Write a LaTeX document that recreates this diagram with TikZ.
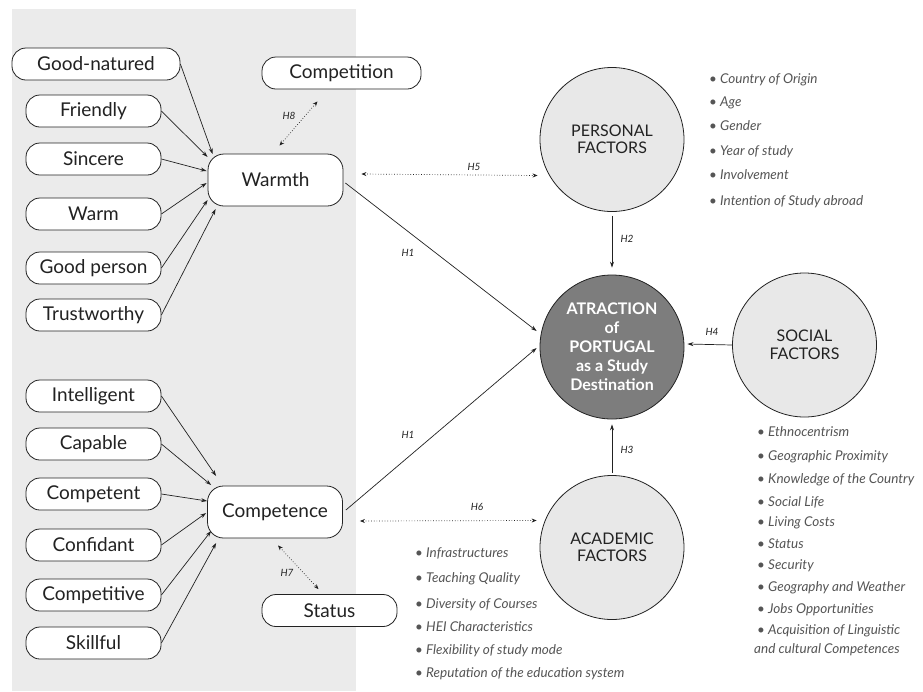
\documentclass[tikz,border=0pt]{standalone}
\usepackage{fontspec}
\setmainfont{Lato}
\usepackage{tikz}
\usetikzlibrary{arrows.meta}
\usetikzlibrary{calc}
\definecolor{panelgrey}{HTML}{EBEBEB}
\definecolor{circlegrey}{HTML}{E8E8E8}
\definecolor{targetgrey}{HTML}{7D7D7D}
\definecolor{inkgrey}{HTML}{222222}
\definecolor{listgrey}{HTML}{555555}
\tikzset{
	trait/.style={draw=inkgrey, fill=white, line width=0.8pt, rounded corners=14pt, minimum width=135, minimum height=32, inner sep=0pt, text=inkgrey, font=\fontsize{19}{21}\selectfont},
	construct/.style={trait, minimum height=52, rounded corners=16pt},
	factor/.style={draw=inkgrey, fill=circlegrey, line width=0.8pt, circle, minimum size=144, inner sep=0pt, align=center, text=inkgrey, font=\fontsize{16}{17.5}\selectfont},
	listitem/.style={anchor=base west, inner sep=0pt, text=listgrey, font=\fontsize{13.5}{14}\selectfont\itshape},
	hyp/.style={inner sep=0pt, text=inkgrey, font=\fontsize{10}{11}\selectfont\itshape},
	link/.style={draw=inkgrey, line width=0.7pt, -{Stealth[length=6pt,width=4pt]}},
	assoc/.style={draw=inkgrey, line width=0.7pt, dotted, {Stealth[length=5pt,width=4pt]}-{Stealth[length=5pt,width=4pt]}}
}

\begin{document}
\begin{tikzpicture}[x=1pt, y=-1pt]
	% Page and shaded panel
	\useasboundingbox (0,0) rectangle (923,691);
	\fill[white] (0,0) rectangle (923,691);
	\fill[panelgrey] (12,9) rectangle (356,691);

	% Traits of warmth
	\node[trait, minimum width=168] (goodnatured) at (96,64) {Good-natured};
	\node[trait] (friendly)    at (93.5,111) {Friendly};
	\node[trait] (sincere)     at (93.5,159) {Sincere};
	\node[trait] (warm)        at (93.5,214) {Warm};
	\node[trait] (goodperson)  at (93.5,268) {Good person};
	\node[trait] (trustworthy) at (93.5,315) {Trustworthy};

	% Traits of competence
	\node[trait] (intelligent) at (93.5,396) {Intelligent};
	\node[trait] (capable)     at (93.5,444) {Capable};
	\node[trait] (competent)   at (93.5,494) {Competent};
	\node[trait] (confidant)   at (93.5,545) {Confidant};
	\node[trait] (competitive) at (93.5,595) {Competitive};
	\node[trait] (skillful)    at (93.5,643) {Skillful};

	% Stereotype dimensions
	\node[construct] (warmth)     at (275.5,180) {Warmth};
	\node[construct] (competence) at (275,512) {Competence};
	\node[trait, minimum width=159] (competition) at (341.5,73) {Competition};
	\node[trait] (status) at (329.5,610.5) {Status};

	% Factors
	\node[factor] (personal) at (612,139.5) {PERSONAL\\FACTORS};
	\node[factor] (social)   at (804.5,345) {SOCIAL\\FACTORS};
	\node[factor] (academic) at (612,547.5) {ACADEMIC\\FACTORS};
	\node[factor, fill=targetgrey, text=white, font=\fontsize{16}{19}\selectfont\bfseries] (attraction) at (612,347) {ATRACTION\\of\\PORTUGAL\\as a Study\\Destination};

	% Traits into dimensions
	\draw[link] (goodnatured.east) -- ($(warmth.west)+(5,-26)$);
	\draw[link] (friendly.east)    -- ($(warmth.west)+(0,-23)$);
	\draw[link] (sincere.east)     -- ($(warmth.west)+(-1,-9)$);
	\draw[link] (warm.east)        -- ($(warmth.west)+(-1,3)$);
	\draw[link] (goodperson.east)  -- ($(warmth.west)+(0,20)$);
	\draw[link] (trustworthy.east) -- ($(warmth.west)+(8,29)$);

	\draw[link] (intelligent.east) -- ($(competence.west)+(9,-36)$);
	\draw[link] (capable.east)     -- ($(competence.west)+(4,-27)$);
	\draw[link] (competent.east)   -- ($(competence.west)+(0,-11)$);
	\draw[link] (confidant.east)   -- ($(competence.west)+(-1,1)$);
	\draw[link] (competitive.east) -- ($(competence.west)+(4,19)$);
	\draw[link] (skillful.east)    -- ($(competence.west)+(9,31)$);

	% Hypotheses
	\draw[assoc] ($(warmth.north)+(4,-8)$) -- ($(competition.south)+(-24,12)$);
	\draw[assoc] ($(competence.south)+(3,7)$) -- ($(status.north)+(-11,-5)$);
	\draw[assoc] ($(warmth.east)+(18,-6)$) -- ($(personal.west)+(-2,36)$);
	\draw[assoc] ($(competence.east)+(17,9)$) -- ($(academic.west)+(-3,-27)$);
	\draw[link] ($(warmth.east)+(2,3)$) -- ($(attraction.west)+(-3,-16)$);
	\draw[link] ($(competence.east)+(3,-2)$) -- ($(attraction.west)+(-3,1)$);
	\draw[link] ($(personal.south)+(0,4)$) -- ($(attraction.north)+(0,-7)$);
	\draw[link] ($(academic.north)+(0,-2)$) -- ($(attraction.south)+(0,5)$);
	\draw[link] (social.west) -- ($(attraction.east)+(3,-3)$);

	\node[hyp] (h8) at (289,116) {H8};
	\node[hyp] (h7) at (287,573) {H7};
	\node[hyp] (h5) at (474,167) {H5};
	\node[hyp] (h6) at (477,507) {H6};
	\node[hyp] (h1a) at (408,253) {H1};
	\node[hyp] (h1b) at (408,435) {H1};
	\node[hyp] (h2) at (627,239) {H2};
	\node[hyp] (h3) at (627,450) {H3};
	\node[hyp] (h4) at (712,332) {H4};

	% Personal factor items
	\node[listitem] (pf1) at (709,83)  {\textbullet\ Country of Origin};
	\node[listitem] (pf2) at (709,106) {\textbullet\ Age};
	\node[listitem] (pf3) at (709,130) {\textbullet\ Gender};
	\node[listitem] (pf4) at (709,155) {\textbullet\ Year of study};
	\node[listitem] (pf5) at (709,179) {\textbullet\ Involvement};
	\node[listitem] (pf6) at (709,205) {\textbullet\ Intention of Study abroad};

	% Social factor items
	\node[listitem] (sf1)  at (757,436) {\textbullet\ Ethnocentrism};
	\node[listitem] (sf2)  at (757,460) {\textbullet\ Geographic Proximity};
	\node[listitem] (sf3)  at (757,483) {\textbullet\ Knowledge of the Country};
	\node[listitem] (sf4)  at (757,506) {\textbullet\ Social Life};
	\node[listitem] (sf5)  at (757,526) {\textbullet\ Living Costs};
	\node[listitem] (sf6)  at (757,548) {\textbullet\ Status};
	\node[listitem] (sf7)  at (757,569) {\textbullet\ Security};
	\node[listitem] (sf8)  at (757,591) {\textbullet\ Geography and Weather};
	\node[listitem] (sf9)  at (757,613) {\textbullet\ Jobs Opportunities};
	\node[listitem] (sf10) at (757,634) {\textbullet\ Acquisition of Linguistic};
	\node[listitem] (sf11) at (754,653) {and cultural Competences};

	% Academic factor items
	\node[listitem] (af1) at (415,557) {\textbullet\ Infrastructures};
	\node[listitem] (af2) at (415,582) {\textbullet\ Teaching Quality};
	\node[listitem] (af3) at (415,608) {\textbullet\ Diversity of Courses};
	\node[listitem] (af4) at (415,631) {\textbullet\ HEI Characteristics};
	\node[listitem] (af5) at (415,654) {\textbullet\ Flexibility of study mode};
	\node[listitem] (af6) at (415,677) {\textbullet\ Reputation of the education system};

\end{tikzpicture}
\end{document}
